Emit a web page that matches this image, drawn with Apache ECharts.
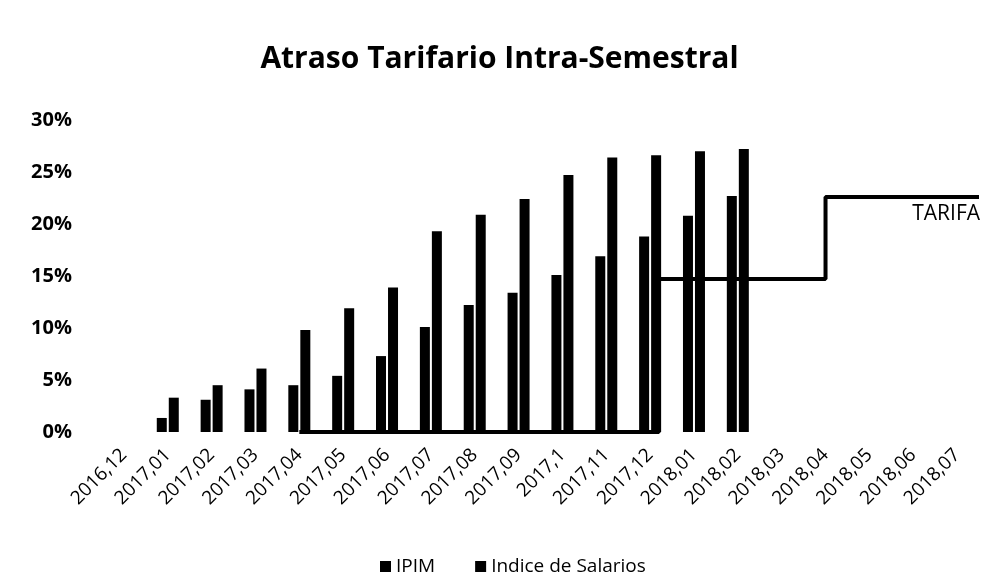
<!DOCTYPE html>
<html>
<head>
<meta charset="utf-8">
<script src="https://cdn.jsdelivr.net/npm/echarts@6/dist/echarts.min.js"></script>
<style>
  html, body { margin: 0; padding: 0; background: #fff; }
  #chart { width: 999px; height: 580px; }
</style>
</head>
<body>
<div id="chart"></div>
<script>
// categorias (meses)
const categories = [
  "2016,12", "2017,01", "2017,02", "2017,03", "2017,04", "2017,05", "2017,06",
  "2017,07", "2017,08", "2017,09", "2017,1", "2017,11", "2017,12", "2018,01",
  "2018,02", "2018,03", "2018,04", "2018,05", "2018,06", "2018,07"
];

// valores en %
const ipim = [null, 1.35, 3.1, 4.1, 4.5, 5.4, 7.3, 10.1, 12.2, 13.4, 15.1, 16.9, 18.8, 20.8, 22.7, null, null, null, null, null];
const salarios = [null, 3.3, 4.5, 6.1, 9.8, 11.9, 13.9, 19.3, 20.9, 22.4, 24.7, 26.4, 26.6, 27.0, 27.2, null, null, null, null, null];

// tarifa: cambios en posicion de mes (unidades de categoria) y nivel en %
const tarifaX = [4.5, 12.7, 16.5, 20];
const tarifaY = [0, 14.7, 22.6, 22.6];

const yTicks = [0, 30, 5]; // min, max, intervalo

const fontFamily = "'Open Sans', 'Noto Sans', sans-serif";

const chart = echarts.init(document.getElementById("chart"));

chart.setOption({
  animation: false,
  backgroundColor: "#fff",
  textStyle: { fontFamily: fontFamily },
  title: {
    text: "Atraso Tarifario Intra-Semestral",
    left: "center",
    top: 44,
    padding: 0,
    textStyle: {
      fontFamily: fontFamily,
      fontSize: 30,
      fontWeight: "bold",
      color: "#000",
    },
  },
  legend: {
    top: 552,
    left: 375,
    itemWidth: 11,
    itemHeight: 11,
    itemGap: 40,
    icon: "rect",
    textStyle: {
      fontFamily: fontFamily,
      fontSize: 19,
      color: "#000",
    },
    data: ["IPIM", "Indice de Salarios"],
  },
  grid: {
    left: 102,
    right: 20,
    top: 120,
    bottom: 148,
    containLabel: false,
  },
  xAxis: [
    {
      type: "category",
      data: categories,
      boundaryGap: true,
      axisLine: { show: false },
      axisTick: { show: false },
      splitLine: { show: false },
      axisLabel: {
        rotate: 45,
        interval: 0,
        margin: 20,
        color: "#000",
        fontFamily: fontFamily,
        fontSize: 19,
      },
    },
    {
      // eje auxiliar para la tarifa (meses en unidades de categoria)
      type: "value",
      min: 0,
      max: categories.length,
      show: false,
    },
  ],
  yAxis: {
    type: "value",
    min: yTicks[0],
    max: yTicks[1],
    interval: yTicks[2],
    axisLine: { show: false },
    axisTick: { show: false },
    splitLine: { show: false },
    axisLabel: {
      formatter: "{value}%",
      color: "#000",
      fontFamily: fontFamily,
      fontSize: 20,
      fontWeight: "bold",
      margin: 30,
    },
  },
  series: [
    {
      name: "IPIM",
      type: "bar",
      xAxisIndex: 0,
      barWidth: 10,
      barGap: "20%",
      itemStyle: { color: "#000" },
      data: ipim,
    },
    {
      name: "Indice de Salarios",
      type: "bar",
      xAxisIndex: 0,
      barWidth: 10,
      itemStyle: { color: "#000" },
      data: salarios,
    },
    {
      name: "TARIFA",
      type: "line",
      xAxisIndex: 1,
      step: "end",
      showSymbol: false,
      lineStyle: { color: "#000", width: 4 },
      itemStyle: { color: "#000" },
      endLabel: {
        show: true,
        formatter: "TARIFA",
        align: "right",
        offset: [-7, 17],
        color: "#000",
        fontFamily: fontFamily,
        fontSize: 21,
      },
      data: tarifaX.map((x, i) => [x, tarifaY[i]]),
      z: 3,
    },
  ],
});
</script>
</body>
</html>
